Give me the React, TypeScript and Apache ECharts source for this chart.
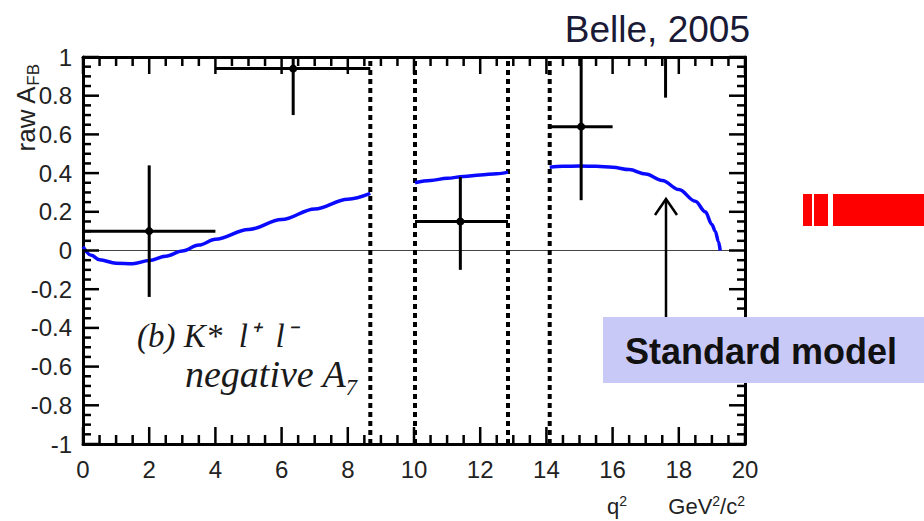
import React, { useEffect, useRef } from "react";
import * as echarts from "echarts";

// ---- data ----
const xTickLabels = ["0", "2", "4", "6", "8", "10", "12", "14", "16", "18", "20"];
const yTickLabels = ["-1", "-0.8", "-0.6", "-0.4", "-0.2", "0", "0.2", "0.4", "0.6", "0.8", "1"];

// measured raw A_FB bins
const binCenters = [2, 6.35, 11.4, 15.05, 17.6];
const binLow = [0, 4, 10.03, 14.1, 16];
const binHigh = [4, 8.68, 12.84, 16, 19.3];
const afbValues = [0.1, 0.94, 0.15, 0.64, 1.2];
const errDown = [0.34, 0.24, 0.25, 0.38, 0.41];
const errUp = [0.34, 0.24, 0.23, 0.38, 0.41];

// charmonium veto boundaries
const vetoLines = [8.68, 10.03, 12.84, 14.1];

// Standard model prediction (three pieces)
const smSegment1: [number, number][] = [
  [0, 0.02], [0.25, -0.025], [0.5, -0.048], [1, -0.066], [1.5, -0.068], [2, -0.052],
  [2.5, -0.03], [3, -0.003], [3.5, 0.028], [4, 0.058], [5, 0.108], [6, 0.16],
  [7, 0.215], [8, 0.265], [8.68, 0.295],
];
const smSegment2: [number, number][] = [
  [10.03, 0.35], [10.5, 0.362], [11, 0.373], [11.5, 0.383], [12, 0.39], [12.5, 0.397], [12.84, 0.405],
];
const smSegment3: [number, number][] = [
  [14.1, 0.43], [14.5, 0.435], [15, 0.437], [15.5, 0.435], [16, 0.43], [16.5, 0.418],
  [17, 0.395], [17.5, 0.362], [18, 0.315], [18.5, 0.255], [18.8, 0.2], [19.0, 0.135],
  [19.1, 0.1], [19.2, 0.045], [19.25, 0],
];

// axis ranges and tick spacing
const X_MIN = 0, X_MAX = 20, X_MAJOR = 2, X_MINOR = 0.5;
const Y_MIN = -1, Y_MAX = 1, Y_MAJOR = 0.2, Y_MINOR = 0.05;

const SANS = "'Liberation Sans', Arial, Helvetica, sans-serif";
const SERIF = "'Liberation Serif', 'Times New Roman', serif";

function makeAxis(kind: "x" | "y", position: string, labels: boolean) {
  const isX = kind === "x";
  return {
    type: "value",
    min: isX ? X_MIN : Y_MIN,
    max: isX ? X_MAX : Y_MAX,
    interval: isX ? X_MAJOR : Y_MAJOR,
    position,
    axisLine: { show: true, onZero: false, lineStyle: { color: "#000", width: 3 } },
    axisTick: { show: false },
    minorTick: { show: false },
    splitLine: { show: false },
    axisLabel: labels
      ? {
          show: true,
          fontSize: 24,
          color: "#222",
          margin: isX ? 13 : 11,
          fontFamily: SANS,
          formatter: isX
            ? (v: number) => xTickLabels[Math.round((v - X_MIN) / X_MAJOR)] ?? ""
            : (v: number) => yTickLabels[Math.round((v - Y_MIN) / Y_MAJOR)] ?? "",
        }
      : { show: false },
  };
}

// inside ticks on the four sides of the frame, placed with the axes' own scales
function buildTicks(api: any) {
  const out: any[] = [];
  const nx = Math.round((X_MAX - X_MIN) / X_MINOR);
  const perX = Math.round(X_MAJOR / X_MINOR);
  for (let i = 0; i <= nx; i++) {
    const v = X_MIN + i * X_MINOR;
    const len = i % perX === 0 ? 17 : 9;
    const b = api.coord([v, Y_MIN]);
    const t = api.coord([v, Y_MAX]);
    out.push({ type: "line", shape: { x1: b[0], y1: b[1], x2: b[0], y2: b[1] - len }, style: { stroke: "#000", lineWidth: 2.5 } });
    out.push({ type: "line", shape: { x1: t[0], y1: t[1], x2: t[0], y2: t[1] + len }, style: { stroke: "#000", lineWidth: 2.5 } });
  }
  const ny = Math.round((Y_MAX - Y_MIN) / Y_MINOR);
  const perY = Math.round(Y_MAJOR / Y_MINOR);
  for (let i = 0; i <= ny; i++) {
    const v = Y_MIN + i * Y_MINOR;
    const len = i % perY === 0 ? 16 : 8;
    const l = api.coord([X_MIN, v]);
    const r = api.coord([X_MAX, v]);
    out.push({ type: "line", shape: { x1: l[0], y1: l[1], x2: l[0] + len, y2: l[1] }, style: { stroke: "#000", lineWidth: 2.5 } });
    out.push({ type: "line", shape: { x1: r[0], y1: r[1], x2: r[0] - len, y2: r[1] }, style: { stroke: "#000", lineWidth: 2.5 } });
  }
  return out;
}

export default function App() {
  const ref = useRef<HTMLDivElement>(null);

  useEffect(() => {
    if (!ref.current) return;
    const chart = echarts.init(ref.current, undefined, { renderer: "svg" });

    const errData = binCenters.map((c, i) => [
      c, afbValues[i], binLow[i], binHigh[i], afbValues[i] - errDown[i], afbValues[i] + errUp[i],
    ]);

    const clampY = (v: number) => Math.max(Y_MIN, Math.min(Y_MAX, v));

    const vetoSeries = vetoLines.map((v) => ({
      type: "line",
      data: [[v, Y_MIN], [v, Y_MAX]],
      symbol: "none",
      silent: true,
      z: 3,
      lineStyle: { color: "#000", width: 4, type: [5, 4] },
    }));

    const smSeries = [smSegment1, smSegment2, smSegment3].map((seg) => ({
      type: "line",
      data: seg,
      symbol: "none",
      smooth: 0.35,
      smoothMonotone: "x",
      z: 4,
      lineStyle: { color: "#0a0aff", width: 3.5 },
    }));

    const option: any = {
      animation: false,
      backgroundColor: "#fff",
      grid: { left: 83, top: 57, right: 179, bottom: 77, show: false },
      xAxis: [makeAxis("x", "bottom", true), makeAxis("x", "top", false)],
      yAxis: [makeAxis("y", "left", true), makeAxis("y", "right", false)],
      series: [
        {
          type: "line",
          data: [[X_MIN, 0], [X_MAX, 0]],
          symbol: "none",
          silent: true,
          z: 2,
          lineStyle: { color: "#444", width: 1 },
        },
        ...vetoSeries,
        ...smSeries,
        {
          type: "custom",
          z: 5,
          data: errData,
          encode: { x: 0, y: 1 },
          renderItem: (params: any, api: any) => {
            const x = api.value(0), y = api.value(1);
            const xl = api.value(2), xh = api.value(3);
            const yl = api.value(4), yh = api.value(5);
            const children: any[] = [];
            if (yl < Y_MAX && yh > Y_MIN) {
              const pt = api.coord([x, clampY(yh)]);
              const pb = api.coord([x, clampY(yl)]);
              children.push({
                type: "line",
                shape: { x1: pt[0], y1: pt[1], x2: pb[0], y2: pb[1] },
                style: { stroke: "#000", lineWidth: 3 },
              });
            }
            if (y <= Y_MAX && y >= Y_MIN) {
              const pl = api.coord([xl, y]);
              const pr = api.coord([xh, y]);
              const pc = api.coord([x, y]);
              children.push({
                type: "line",
                shape: { x1: pl[0], y1: pl[1], x2: pr[0], y2: pr[1] },
                style: { stroke: "#000", lineWidth: 3 },
              });
              children.push({
                type: "circle",
                shape: { cx: pc[0], cy: pc[1], r: 4 },
                style: { fill: "#000" },
              });
            }
            if (params.dataIndex === 0) {
              children.push(...buildTicks(api));
            }
            return { type: "group", children };
          },
        },
      ],
      graphic: [
        {
          type: "text", x: 750, y: 29, z: 10,
          style: {
            text: "Belle, 2005", fontSize: 37, fontFamily: SANS, fill: "#1a1a36",
            textAlign: "right", textVerticalAlign: "middle",
          },
        },
        {
          type: "text", x: 26, y: 108, rotation: Math.PI / 2, z: 10,
          style: {
            text: "raw A{sub|FB}", fontSize: 26, fontFamily: SANS, fill: "#222",
            textAlign: "center", textVerticalAlign: "middle",
            rich: { sub: { fontSize: 17, fontFamily: SANS, fill: "#222", verticalAlign: "bottom", padding: [14, 0, 0, 0] } },
          },
        },
        {
          type: "text", x: 137, y: 336, z: 10,
          style: {
            text: "(b) K*  l\u207A  l\u207B", fontSize: 33, fontStyle: "italic",
            fontFamily: SERIF, fill: "#1a1a1a", textVerticalAlign: "middle",
          },
        },
        {
          type: "text", x: 185, y: 374, z: 10,
          style: {
            text: "negative A\u2087", fontSize: 38, fontStyle: "italic",
            fontFamily: SERIF, fill: "#1a1a1a", textVerticalAlign: "middle",
          },
        },
        {
          type: "text", x: 607, y: 506, z: 10,
          style: {
            text: "q{sup|2}", fontSize: 22, fontFamily: SANS, fill: "#222", textVerticalAlign: "middle",
            rich: { sup: { fontSize: 14, fontFamily: SANS, fill: "#222", verticalAlign: "top", padding: [0, 0, 10, 0] } },
          },
        },
        {
          type: "text", x: 745, y: 506, z: 10,
          style: {
            text: "GeV{sup|2}/c{sup|2}", fontSize: 22, fontFamily: SANS, fill: "#222",
            textAlign: "right", textVerticalAlign: "middle",
            rich: { sup: { fontSize: 14, fontFamily: SANS, fill: "#222", verticalAlign: "top", padding: [0, 0, 10, 0] } },
          },
        },
        // arrow to the SM curve
        {
          type: "line", z: 10,
          shape: { x1: 666, y1: 318, x2: 666, y2: 200 },
          style: { stroke: "#000", lineWidth: 2.5 },
        },
        {
          type: "polyline", z: 10,
          shape: { points: [[655, 215], [666, 199], [677, 215]] },
          style: { stroke: "#000", lineWidth: 2.5, fill: "none" },
        },
        // Standard model label box
        {
          type: "rect", z: 11,
          shape: { x: 603, y: 317, width: 321, height: 66 },
          style: { fill: "#c9c9f8" },
        },
        {
          type: "text", x: 625, y: 351, z: 12,
          style: {
            text: "Standard model", fontSize: 36, fontWeight: "bold", fontFamily: SANS,
            fill: "#111", textVerticalAlign: "middle",
          },
        },
        // red bar on the right
        { type: "rect", z: 10, shape: { x: 803, y: 194, width: 9, height: 32 }, style: { fill: "#ff0000" } },
        { type: "rect", z: 10, shape: { x: 814, y: 194, width: 14, height: 32 }, style: { fill: "#ff0000" } },
        { type: "rect", z: 10, shape: { x: 833, y: 194, width: 91, height: 32 }, style: { fill: "#ff0000" } },
      ],
    };

    chart.setOption(option);
    return () => chart.dispose();
  }, []);

  return (
    <div
      ref={ref}
      style={{ position: "absolute", left: 0, top: 0, width: 924, height: 521, background: "#fff" }}
    />
  );
}
